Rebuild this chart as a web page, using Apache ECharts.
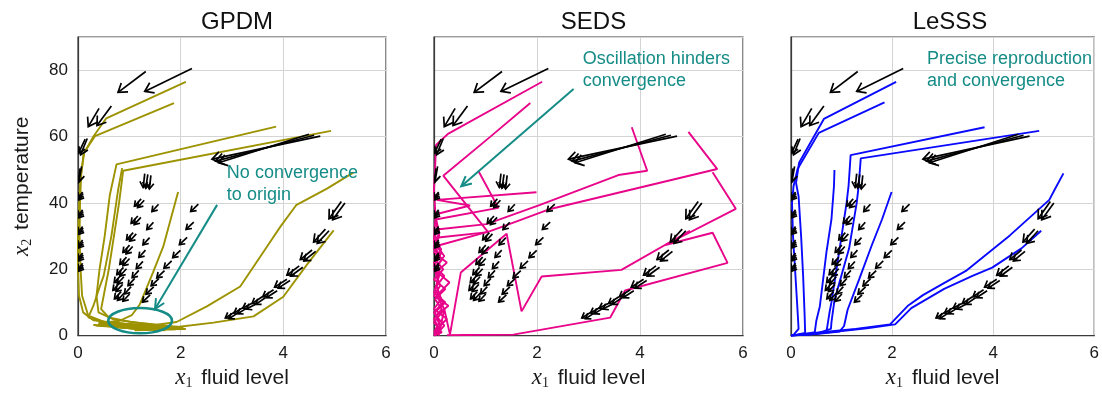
<!DOCTYPE html>
<html>
<head>
<meta charset="utf-8">
<script src="https://cdn.jsdelivr.net/npm/echarts@6/dist/echarts.min.js"></script>
<style>
  html, body { margin: 0; padding: 0; background: #ffffff; }
  #chart { width: 1102px; height: 395px; }
</style>
</head>
<body>
<div id="chart"></div>
<script>
// Axis ticks and panel titles
const xTicks = [0, 2, 4, 6];
const yTicks = [0, 20, 40, 60, 80];
const panelTitles = ['GPDM', 'SEDS', 'LeSSS'];

// Demonstrations, drawn as velocity arrows: [x tail, y tail, x head, y head]
const demo1 = [
  [2.22, 80.5, 1.30, 73.6], [0.65, 69.2, 0.37, 63.3], [0.18, 59.4, 0.05, 54.5],
  [0.07, 51.0, 0.02, 46.4], [0.10, 42.8, 0.01, 40.9], [0.10, 37.4, 0.01, 35.5],
  [0.10, 32.4, 0.01, 30.5], [0.10, 28.3, 0.01, 26.4], [0.10, 24.4, 0.01, 22.5],
  [0.10, 21.3, 0.01, 19.4]
];
const demo2 = [
  [1.32, 79.6, 0.78, 73.3], [0.41, 68.5, 0.20, 63.0], [0.14, 59.2, 0.01, 55.0],
  [0.04, 50.4, 0.00, 46.0], [0.09, 43.3, 0.00, 41.4], [0.09, 37.9, 0.00, 36.0],
  [0.09, 32.9, 0.00, 31.0], [0.09, 28.8, 0.00, 26.9], [0.09, 24.9, 0.00, 23.0],
  [0.09, 21.8, 0.00, 19.9]
];
const demo3 = [
  [4.72, 60.1, 2.61, 53.2], [1.36, 48.6, 1.32, 44.4], [1.29, 40.8, 1.16, 38.6],
  [1.225, 35.65, 1.095, 33.45], [1.135, 30.65, 1.005, 28.45], [1.065, 26.85, 0.935, 24.65],
  [1.005, 23.25, 0.875, 21.05], [0.945, 20.15, 0.815, 17.95], [0.895, 17.75, 0.765, 15.55],
  [0.87, 15.45, 0.74, 13.25], [0.90, 12.85, 0.77, 10.65]
];
const demo4 = [
  [4.50, 60.7, 2.74, 52.1], [1.30, 48.8, 1.27, 44.6], [1.23, 41.2, 1.10, 39.0],
  [1.165, 36.05, 1.035, 33.85], [1.075, 31.05, 0.945, 28.85], [1.005, 27.25, 0.875, 25.05],
  [0.945, 23.65, 0.815, 21.45], [0.885, 20.55, 0.755, 18.35], [0.835, 18.15, 0.705, 15.95],
  [0.81, 15.85, 0.68, 13.65], [0.84, 13.25, 0.71, 11.05]
];
const demo5 = [
  [4.60, 60.4, 2.68, 52.6], [1.42, 48.3, 1.39, 44.2], [1.57, 39.6, 1.44, 37.4],
  [1.47, 34.15, 1.34, 31.95], [1.395, 29.55, 1.265, 27.35], [1.315, 25.75, 1.185, 23.55],
  [1.265, 22.35, 1.135, 20.15], [1.185, 19.65, 1.055, 17.45], [1.105, 17.25, 0.975, 15.05],
  [1.035, 14.75, 0.905, 12.55], [1.005, 12.55, 0.875, 10.35]
];
const demo6 = [
  [2.345, 39.6, 2.195, 37.4], [2.255, 34.2, 2.105, 32.0], [2.125, 29.6, 1.975, 27.4],
  [1.995, 25.7, 1.845, 23.5], [1.825, 22.5, 1.675, 20.3], [1.685, 19.6, 1.535, 17.4],
  [1.575, 17.2, 1.425, 15.0], [1.475, 14.7, 1.325, 12.5], [1.405, 12.3, 1.255, 10.1]
];
const demo7 = [
  [5.13, 40.4, 4.89, 35.2], [4.82, 32.1, 4.59, 28.2], [4.56, 25.8, 4.33, 22.9],
  [4.31, 21.0, 4.07, 18.2], [4.07, 17.0, 3.83, 14.6], [3.81, 13.8, 3.60, 11.7],
  [3.59, 11.7, 3.39, 9.7], [3.38, 9.7, 3.21, 8.3], [3.22, 8.5, 3.04, 6.8],
  [3.07, 7.3, 2.87, 5.3]
];
const demo8 = [
  [5.20, 40.0, 4.96, 34.9], [4.89, 31.6, 4.66, 27.8], [4.63, 25.4, 4.40, 22.5],
  [4.38, 20.6, 4.14, 17.9], [4.13, 16.6, 3.90, 14.3], [3.88, 13.5, 3.67, 11.4],
  [3.65, 11.4, 3.46, 9.4], [3.45, 9.4, 3.28, 8.0], [3.28, 8.2, 3.11, 6.6],
  [3.13, 7.0, 2.94, 5.1]
];

// GPDM reproductions
const gpdm1 = [[2.1, 76.5], [0.55, 65.5], [0.3, 60], [0.12, 55], [0.05, 48], [0.02, 40], [0.0, 30], [0.0, 20], [0.02, 12], [0.1, 7], [0.3, 4.6], [0.9, 3.6], [1.5, 3.1], [1.95, 2.7], [0.7, 3.3], [1.8, 2.4], [0.9, 2.9], [1.6, 2.2]];
const gpdm2 = [[1.87, 70.1], [0.33, 60.1], [0.11, 55], [0.06, 48], [0.04, 40], [0.03, 30], [0.05, 20], [0.08, 12], [0.2, 6], [0.5, 4.2], [1.2, 3.1], [2.05, 2.4], [0.5, 3.9], [1.9, 2.0], [0.8, 2.6], [1.7, 1.9]];
const gpdm3 = [[3.86, 63], [0.75, 51.6], [0.62, 42.4], [0.52, 30], [0.42, 20], [0.36, 12], [0.4, 7], [0.7, 4.8], [1.2, 3.8], [1.75, 3.0], [1.0, 2.3], [0.35, 3.0], [1.9, 1.9], [1.1, 1.6]];
const gpdm4 = [[4.93, 61.7], [0.88, 49.7], [0.8, 40], [0.7, 30], [0.6, 20], [0.5, 12], [0.45, 8], [0.6, 5.5], [1.0, 4.2], [1.5, 3.2], [2.0, 2.2], [1.3, 2.0], [0.7, 2.5], [1.6, 1.8]];
const gpdm5 = [[5.37, 49.2], [4.85, 44.3], [4.25, 39.3], [3.95, 33], [3.68, 26.8], [3.16, 14.8], [2.51, 8.8], [1.92, 4.1], [1.4, 3.0], [0.8, 2.6], [0.3, 3.2], [1.2, 2.4], [1.8, 2.2]];
const gpdm6 = [[4.98, 31.7], [4.46, 21.4], [4.0, 11.7], [3.42, 5.8], [2.64, 3.9], [1.73, 2.2], [1.0, 2.4], [0.4, 3.5], [1.1, 2.0], [1.7, 1.6]];
const gpdm7 = [[1.95, 43.3], [1.66, 26.8], [1.46, 19], [1.2, 9.3], [1.05, 6.2], [0.8, 4.4], [0.4, 3.8], [1.3, 3.0], [1.9, 2.4], [1.0, 2.2]];
const gpdm8 = [[0.86, 50.5], [0.78, 43.8], [0.65, 30], [0.5, 18], [0.42, 14.6], [0.3, 9], [0.2, 5.5], [0.6, 3.4], [1.4, 2.7], [2.1, 2.0], [1.2, 1.8]];

// SEDS reproductions
const seds1 = [[2.1, 76.5], [0.28, 60.9], [0.04, 57.5], [0.02, 50], [0.0, 44], [0.03, 36], [0.0, 29], [0.14, 26], [0.02, 23], [0.18, 20], [0.0, 17], [0.22, 14], [0.02, 11], [0.15, 8], [0.0, 5], [0.1, 2], [0.0, 0]];
const seds2 = [[1.87, 70.1], [1.09, 59.9], [0.18, 48.2], [1.05, 31.2], [0.04, 29.5], [0.1, 27], [0.0, 25], [0.25, 22], [0.03, 19], [0.12, 15], [0.0, 12], [0.28, 9], [0.04, 6], [0.2, 3], [0.02, 0]];
const seds3 = [[3.84, 62.8], [4.14, 49.7], [3.58, 48.4], [2.06, 39.4], [1.02, 33.6], [0.05, 32.0], [0.0, 28], [0.15, 25], [0.0, 22], [0.1, 18], [0.02, 14], [0.18, 10], [0.0, 7], [0.12, 3], [0.0, 0.5]];
const seds4 = [[4.94, 61.4], [5.5, 50.2], [2.22, 38.0], [1.41, 33.3], [1.09, 31.5], [0.05, 27.0], [0.2, 24], [0.0, 20], [0.3, 16], [0.05, 12], [0.2, 8], [0.0, 4], [0.15, 1], [0.0, 0]];
const seds5 = [[0.86, 49.7], [1.25, 38.5], [0.03, 35], [0.1, 30], [0.0, 26], [0.16, 23], [0.02, 20], [0.08, 16], [0.0, 13], [0.22, 10], [0.02, 7], [0.1, 4], [0.0, 1]];
const seds6 = [[1.99, 43.2], [0.05, 40.9], [0.7, 39.2], [0.02, 36.5], [0.1, 31], [0.0, 27], [0.12, 24], [0.0, 21], [0.2, 18], [0.05, 15], [0.14, 11], [0.0, 8], [0.25, 5], [0.05, 2], [0.1, 0]];
const seds7 = [[5.41, 49.2], [5.86, 38.2], [4.49, 27.3], [5.41, 31.0], [5.7, 21.9], [3.71, 13.6], [3.42, 5.4], [1.54, 0.3], [0.6, 0.2], [0.25, 0.1]];
const seds8 = [[4.97, 31.6], [3.64, 19.8], [2.09, 17.8], [1.7, 7.3], [1.41, 30.7], [0.52, 19.0], [0.31, 0.3], [0.2, 8], [0.1, 0.5]];

// LeSSS reproductions
const lesss1 = [[2.08, 76.5], [0.65, 65.3], [0.16, 52.1], [0.1, 46], [0.15, 42], [0.2, 30], [0.24, 18], [0.27, 6], [0.28, 0.8], [0.1, 0.2], [0, 0]];
const lesss2 = [[1.85, 70.3], [0.55, 61.1], [0.13, 50.2], [0.05, 45], [0.02, 40], [0.04, 30], [0.08, 20], [0.12, 10], [0.15, 2], [0.05, 0.2], [0, 0]];
const lesss3 = [[3.83, 62.8], [1.18, 54.4], [1.14, 45.3], [1.1, 40], [1.0, 30], [0.9, 20], [0.8, 10], [0.76, 6.8], [0.7, 1], [0.4, 0.4], [0, 0]];
const lesss4 = [[4.91, 61.7], [1.38, 53.4], [1.34, 45.3], [1.3, 40], [1.15, 26.3], [0.86, 10.7], [0.8, 4], [0.79, 2], [0.5, 0.6], [0, 0]];
const lesss5 = [[0.86, 49.9], [0.85, 45], [0.8, 35], [0.7, 25], [0.62, 15], [0.57, 8.8], [0.5, 4.4], [0.47, 1.0], [0.3, 0.5], [0, 0]];
const lesss6 = [[1.99, 43.3], [1.8, 35], [1.6, 27.3], [1.35, 17], [1.12, 7.8], [1.05, 2.9], [0.96, 1.2], [0.5, 0.5], [0, 0]];
const lesss7 = [[5.39, 48.9], [5.21, 43.8], [5.11, 40.9], [4.33, 30.2], [3.46, 19.5], [3.0, 15.6], [2.61, 12.2], [2.32, 9.1], [1.96, 3.4], [1.28, 2.0], [0.24, 0.5], [0, 0]];
const lesss8 = [[4.95, 31.6], [4.56, 26.3], [3.98, 20.5], [3.59, 18.0], [3.03, 14.1], [2.38, 8.3], [2.06, 3.4], [1.5, 2.2], [1.0, 1.4], [0.5, 0.6], [0, 0]];

// Annotations: arrows [x tail, y tail, x head, y head], ellipse [cx, cy, rx, ry], note anchors [x, y]
const gpdmNoteArrow = [2.71, 39.4, 1.5, 8.0];
const sedsNoteArrow = [2.71, 74.3, 0.53, 45.0];
const gpdmEllipse = [1.21, 4.5, 0.62, 3.8];
const gpdmNote = [2.9, 52.3];
const sedsNote = [2.89, 86.8];
const lesssNote = [2.69, 86.8];
const gpdmNoteText = 'No convergence\nto origin';
const sedsNoteText = 'Oscillation hinders\nconvergence';
const lesssNoteText = 'Precise reproduction\nand convergence';

const demos = [demo1, demo2, demo3, demo4, demo5, demo6, demo7, demo8];
const demoArrows = [].concat(...demos);
const gpdmPaths = [gpdm1, gpdm2, gpdm3, gpdm4, gpdm5, gpdm6, gpdm7, gpdm8];
const sedsPaths = [seds1, seds2, seds3, seds4, seds5, seds6, seds7, seds8];
const lesssPaths = [lesss1, lesss2, lesss3, lesss4, lesss5, lesss6, lesss7, lesss8];

const TEAL = '#158c86';
const COLORS = ['#9d9300', '#e8058a', '#0a0aff'];
const FONT = 'Liberation Sans, Arial, sans-serif';

// Open "V" arrowhead; head length grows with the arrow and is clamped
function arrowRenderer(color, lw, hMin, hMax, frac, spread) {
  return function (params, api) {
    const a = api.coord([api.value(0), api.value(1)]);
    const b = api.coord([api.value(2), api.value(3)]);
    const ang = Math.atan2(b[1] - a[1], b[0] - a[0]);
    const len = Math.hypot(b[0] - a[0], b[1] - a[1]);
    const h = Math.max(hMin, Math.min(hMax, len * frac));
    const p1 = [b[0] - h * Math.cos(ang - spread), b[1] - h * Math.sin(ang - spread)];
    const p2 = [b[0] - h * Math.cos(ang + spread), b[1] - h * Math.sin(ang + spread)];
    return {
      type: 'group',
      children: [
        { type: 'line', shape: { x1: a[0], y1: a[1], x2: b[0], y2: b[1] }, style: { stroke: color, lineWidth: lw } },
        { type: 'polyline', shape: { points: [p1, b, p2] }, style: { stroke: color, lineWidth: lw, fill: 'none' } }
      ]
    };
  };
}

function ellipseRenderer(params, api) {
  const c = api.coord([api.value(0), api.value(1)]);
  const s = api.size([api.value(2), api.value(3)]);
  return {
    type: 'ellipse',
    shape: { cx: c[0], cy: c[1], rx: s[0], ry: s[1] },
    style: { stroke: TEAL, lineWidth: 2.6, fill: 'none' }
  };
}

function noteRenderer(text) {
  return function (params, api) {
    const p = api.coord([api.value(0), api.value(1)]);
    return {
      type: 'text',
      x: p[0], y: p[1],
      style: {
        text: text, fill: TEAL, fontSize: 18, fontFamily: FONT,
        align: 'left', verticalAlign: 'top', lineHeight: 22
      }
    };
  };
}

const gridPos = [
  { left: 78, width: 308 },
  { left: 434, width: 309 },
  { left: 791, width: 308 }
];

const nameRich = {
  i: { fontFamily: 'Liberation Serif, DejaVu Serif, serif', fontStyle: 'italic', fontSize: 23, color: '#1a1a1a' },
  s: { fontFamily: 'Liberation Serif, DejaVu Serif, serif', fontSize: 14, color: '#1a1a1a', verticalAlign: 'bottom', padding: [10, 3, 0, 0] },
  t: { fontFamily: FONT, fontSize: 21, color: '#1a1a1a' }
};

const grids = gridPos.map(g => ({
  left: g.left, width: g.width, top: 37, height: 308,
  show: true, borderColor: '#3a3a3a', borderWidth: 1.2, backgroundColor: 'transparent',
  containLabel: false
}));

const xAxes = gridPos.map((g, i) => ({
  type: 'value', gridIndex: i, min: xTicks[0], max: xTicks[xTicks.length - 1], interval: 2,
  axisLine: { show: true, lineStyle: { color: '#3a3a3a', width: 1.2 } },
  axisTick: { show: false },
  splitLine: { show: true, lineStyle: { color: '#d4d4d4', width: 1 } },
  axisLabel: { color: '#1a1a1a', fontSize: 17, fontFamily: FONT, margin: 9,
    formatter: v => (xTicks.indexOf(v) >= 0 ? String(v) : '') },
  name: '{i|x}{s|1}{t| fluid level}',
  nameLocation: 'middle', nameGap: 22,
  nameTextStyle: { rich: nameRich }
}));

const yAxes = gridPos.map((g, i) => ({
  type: 'value', gridIndex: i, min: 0, max: 90, interval: 20,
  axisLine: { show: true, lineStyle: { color: '#3a3a3a', width: 1.2 } },
  axisTick: { show: false },
  splitLine: { show: true, lineStyle: { color: '#d4d4d4', width: 1 } },
  axisLabel: { show: i === 0, color: '#1a1a1a', fontSize: 17, fontFamily: FONT, margin: 10,
    formatter: v => (yTicks.indexOf(v) >= 0 ? String(v) : '') },
  name: i === 0 ? '{i|x}{s|2}{t| temperature}' : '',
  nameLocation: 'middle', nameGap: 44,
  nameTextStyle: { rich: nameRich }
}));

const series = [];
[gpdmPaths, sedsPaths, lesssPaths].forEach((paths, p) => {
  paths.forEach(path => {
    series.push({
      type: 'line', xAxisIndex: p, yAxisIndex: p, data: path,
      showSymbol: false, symbol: 'none', silent: true, clip: true, z: 2,
      lineStyle: { color: COLORS[p], width: 1.9 }
    });
  });
  series.push({
    type: 'custom', xAxisIndex: p, yAxisIndex: p, data: demoArrows, clip: true, silent: true, z: 4,
    renderItem: arrowRenderer('#000000', 1.7, 6, 10, 0.5, 0.6)
  });
});

// Annotation arrows, ellipse and notes
series.push({
  type: 'custom', xAxisIndex: 0, yAxisIndex: 0, data: [gpdmNoteArrow], silent: true, z: 6,
  renderItem: arrowRenderer(TEAL, 2, 10, 11, 0.1, 0.45)
});
series.push({
  type: 'custom', xAxisIndex: 1, yAxisIndex: 1, data: [sedsNoteArrow], silent: true, z: 6,
  renderItem: arrowRenderer(TEAL, 2, 10, 11, 0.1, 0.45)
});
series.push({
  type: 'custom', xAxisIndex: 0, yAxisIndex: 0, data: [gpdmEllipse], silent: true, z: 6,
  renderItem: ellipseRenderer
});
series.push({ type: 'custom', xAxisIndex: 0, yAxisIndex: 0, data: [gpdmNote], silent: true, z: 7, clip: false, renderItem: noteRenderer(gpdmNoteText) });
series.push({ type: 'custom', xAxisIndex: 1, yAxisIndex: 1, data: [sedsNote], silent: true, z: 7, clip: false, renderItem: noteRenderer(sedsNoteText) });
series.push({ type: 'custom', xAxisIndex: 2, yAxisIndex: 2, data: [lesssNote], silent: true, z: 7, clip: false, renderItem: noteRenderer(lesssNoteText) });

const titles = panelTitles.map((t, i) => ({
  text: t, left: gridPos[i].left + gridPos[i].width / 2, top: 5, textAlign: 'center',
  textStyle: { fontFamily: FONT, fontSize: 24, fontWeight: 'normal', color: '#111' }
}));

const chart = echarts.init(document.getElementById('chart'), null, { renderer: 'canvas' });
chart.setOption({
  animation: false,
  backgroundColor: '#ffffff',
  title: titles,
  grid: grids,
  xAxis: xAxes,
  yAxis: yAxes,
  series: series
});
</script>
</body>
</html>
